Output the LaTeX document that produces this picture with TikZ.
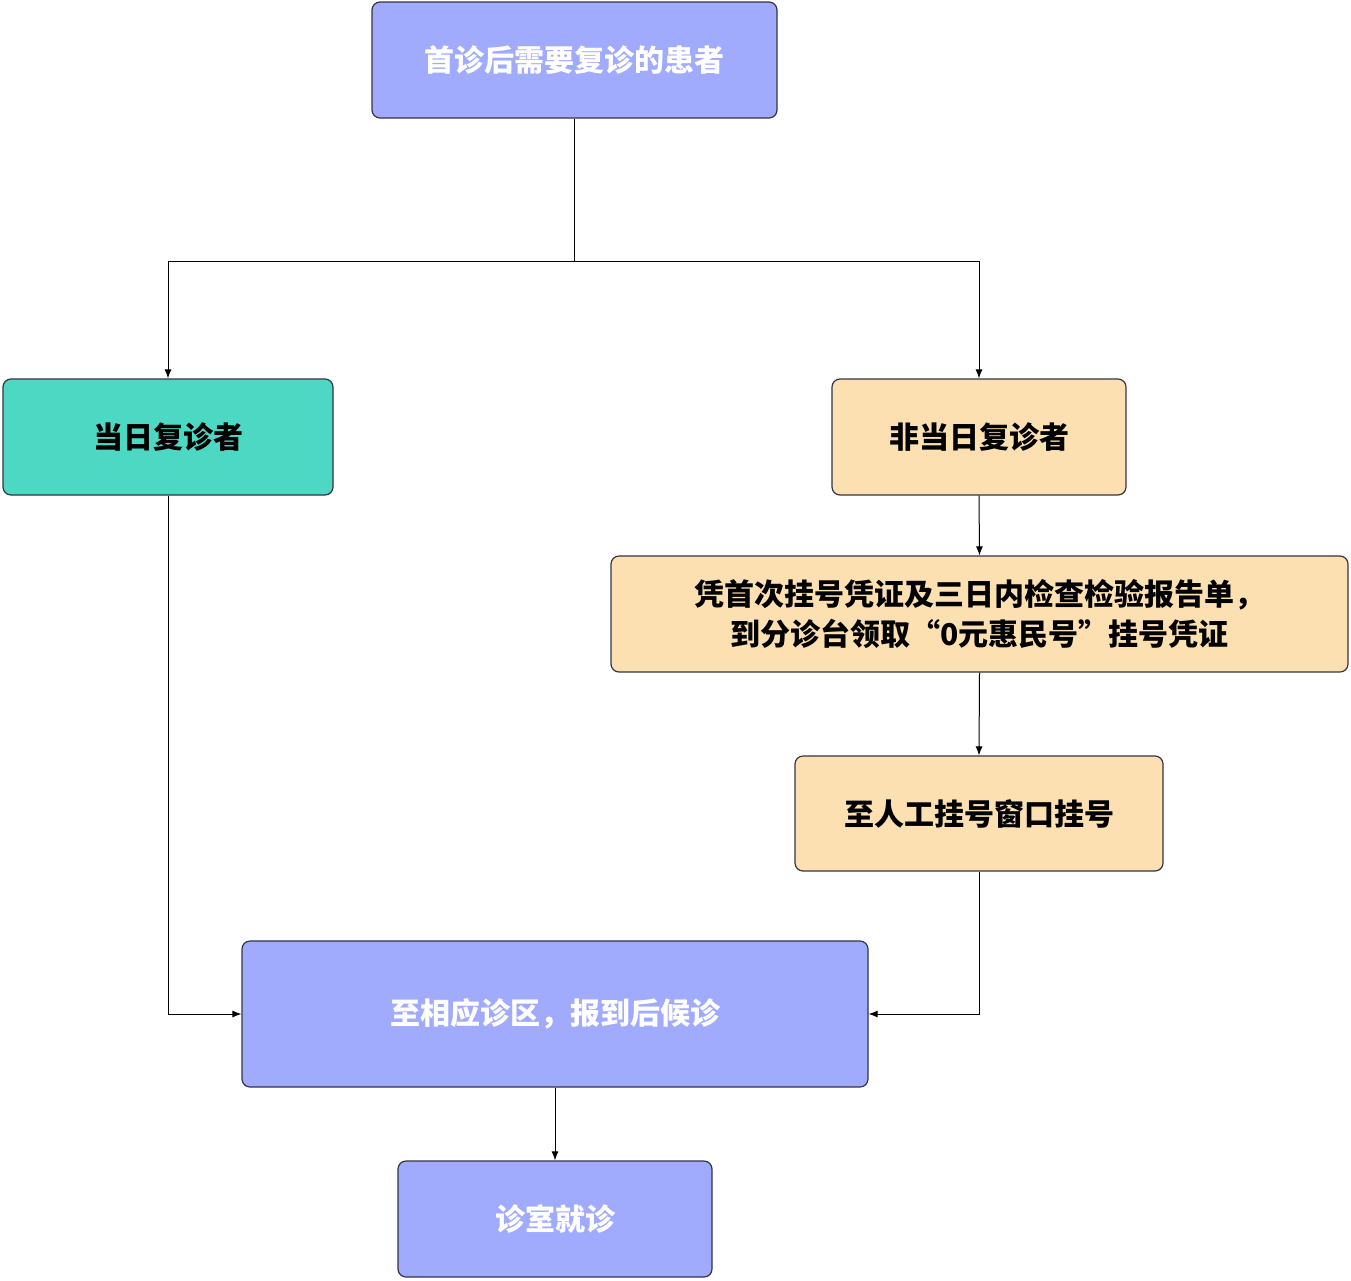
\documentclass[tikz,border=0pt]{standalone}
\usepackage{fontspec}
\setmainfont{Noto Sans CJK SC}
\usetikzlibrary{arrows.meta}
\definecolor{bl}{HTML}{A0ABFD}
\definecolor{tl}{HTML}{4DD8C4}
\definecolor{or}{HTML}{FDE0B2}
\definecolor{ed}{HTML}{333344}
\begin{document}
\begin{tikzpicture}[x=1pt,y=-1pt,
 box/.style={draw=ed,line width=1.2pt,rounded corners=8pt,font=\bfseries\fontsize{30}{40}\selectfont,align=center},
 arr/.style={-{Latex[length=9pt,width=7pt]},line width=1pt,color=black}]
\useasboundingbox (0,0) rectangle (1351,1280);
\newcommand{\bx}[6]{\node[box,fill=#5,text=#6,minimum width=#3-#1,minimum height=#4-#2] (#6x) at ({(#1+#3)/2},{(#2+#4)/2}) {};}
\node[box,fill=bl,text=white,minimum width=405,minimum height=116] (a) at (574.5,60) {首诊后需要复诊的患者};
\node[box,fill=tl,text=black,minimum width=330,minimum height=116] (b) at (168,437) {当日复诊者};
\node[box,fill=or,text=black,minimum width=294,minimum height=116] (c) at (979,437) {非当日复诊者};
\node[box,fill=or,text=black,minimum width=737,minimum height=116] (d) at (979.5,614) {凭首次挂号凭证及三日内检查检验报告单，\\到分诊台领取“0元惠民号”挂号凭证};
\node[box,fill=or,text=black,minimum width=368,minimum height=115] (e) at (979,813.5) {至人工挂号窗口挂号};
\node[box,fill=bl,text=white,minimum width=626,minimum height=146] (f) at (555,1014) {至相应诊区，报到后候诊};
\node[box,fill=bl,text=white,minimum width=314,minimum height=116] (g) at (555,1219) {诊室就诊};
\coordinate (j) at (574.5,261);
\draw[line width=1pt] (a.south) -- (j);
\draw[arr] (j) -| (b.north);
\draw[arr] (j) -| (c.north);
\draw[arr] (c.south) -- (d.north);
\draw[arr] (d.south) -- (e.north);
\draw[arr] (b.south) |- (f.west);
\draw[arr] (e.south) |- (f.east);
\draw[arr] (f.south) -- (g.north);
\end{tikzpicture}
\end{document}
